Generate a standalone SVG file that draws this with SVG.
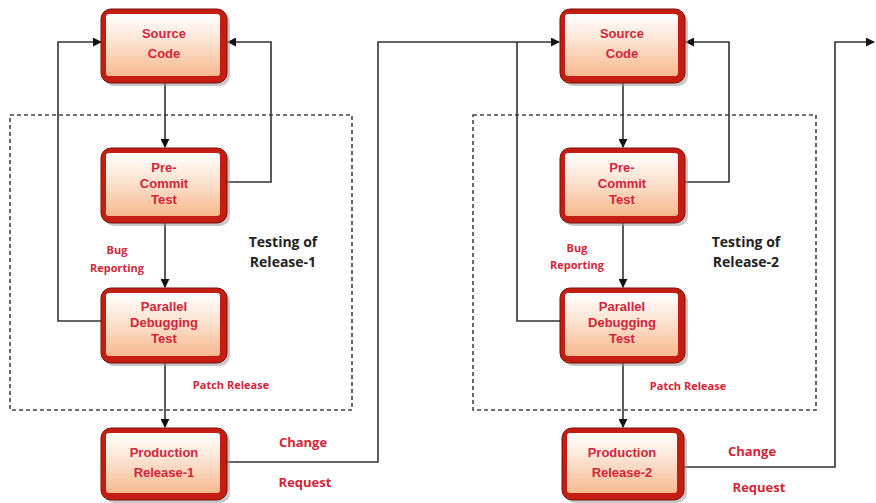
<svg xmlns="http://www.w3.org/2000/svg" width="876" height="503" viewBox="0 0 876 503">
  <defs>
    <linearGradient id="boxFill" x1="0" y1="0" x2="0" y2="1">
      <stop offset="0" stop-color="#ffffff"/>
      <stop offset="0.35" stop-color="#fde9dc"/>
      <stop offset="1" stop-color="#f7b98d"/>
    </linearGradient>
    <marker id="arrow" viewBox="0 0 10 10" refX="9" refY="5" markerWidth="9" markerHeight="9" markerUnits="userSpaceOnUse" orient="auto">
      <path d="M0,0 L10,5 L0,10 z" fill="#111"/>
    </marker>
    <style>
      .shadow { fill: #9a9a9a; opacity: 0.55; }
      .frame { fill: #c41e12; stroke: #7a1008; stroke-width: 1; }
      .face { fill: url(#boxFill); }
      .label { font-family: "Liberation Sans", "Open Sans", sans-serif; font-weight: bold; font-size: 13px; fill: #d3253a; text-anchor: middle; }
      .note { font-family: "Open Sans", "Liberation Sans", sans-serif; font-weight: bold; font-size: 11px; fill: #d3253a; text-anchor: middle; }
      .flow { font-family: "Open Sans", "Liberation Sans", sans-serif; font-weight: bold; font-size: 13px; fill: #d3253a; text-anchor: middle; }
      .title { font-family: "Open Sans", "Liberation Sans", sans-serif; font-weight: bold; font-size: 14px; fill: #222; text-anchor: middle; }
      .edge { fill: none; stroke: #333; stroke-width: 1.6; }
      .group { fill: none; stroke: #444; stroke-width: 1.6; stroke-dasharray: 4 3; }
    </style>
  </defs>

  <rect width="876" height="503" fill="#ffffff"/>

  <!-- testing boundaries -->
  <g id="testing-release-1">
    <rect class="group" x="10" y="115" width="342" height="295"/>
    <text class="title" x="283" y="247">Testing of</text>
    <text class="title" x="283" y="267">Release-1</text>
  </g>
  <g id="testing-release-2">
    <rect class="group" x="473" y="115" width="343" height="295"/>
    <text class="title" x="746" y="247">Testing of</text>
    <text class="title" x="746" y="267">Release-2</text>
  </g>

  <!-- connectors -->
  <g id="connectors">
    <!-- release 1 column -->
    <path class="edge" d="M165,83 V147" marker-end="url(#arrow)"/>
    <path class="edge" d="M165,223 V287" marker-end="url(#arrow)"/>
    <path class="edge" d="M165,363 V427" marker-end="url(#arrow)"/>
    <path class="edge" d="M102,321 H58 V42 H101" marker-end="url(#arrow)"/>
    <path class="edge" d="M227,182 H271 V42 H228" marker-end="url(#arrow)"/>
    <path class="edge" d="M227,462 H378 V42 H559" marker-end="url(#arrow)"/>
    <!-- release 2 column -->
    <path class="edge" d="M623,83 V147" marker-end="url(#arrow)"/>
    <path class="edge" d="M623,223 V287" marker-end="url(#arrow)"/>
    <path class="edge" d="M623,363 V427" marker-end="url(#arrow)"/>
    <path class="edge" d="M561,321 H517 V42"/>
    <path class="edge" d="M685,182 H729 V42 H686" marker-end="url(#arrow)"/>
    <path class="edge" d="M683,467 H835 V42 H874" marker-end="url(#arrow)"/>

    <text class="note" x="117" y="254">Bug</text>
    <text class="note" x="117" y="272">Reporting</text>
    <text class="note" x="231" y="389">Patch Release</text>
    <text class="flow" x="303" y="447">Change</text>
    <text class="flow" x="305" y="487">Request</text>

    <text class="note" x="577" y="252">Bug</text>
    <text class="note" x="577" y="269">Reporting</text>
    <text class="note" x="688" y="390">Patch Release</text>
    <text class="flow" x="752" y="456">Change</text>
    <text class="flow" x="759" y="492">Request</text>
  </g>

  <!-- release 1 nodes -->
  <g id="source-code-1">
    <rect class="shadow" x="104" y="12" width="126" height="74" rx="10"/>
    <rect class="frame" x="101" y="9" width="126" height="74" rx="10"/>
    <rect class="face" x="106" y="14" width="114" height="62" rx="3"/>
    <text class="label" x="164" y="38">Source</text>
    <text class="label" x="164" y="58">Code</text>
  </g>
  <g id="pre-commit-1">
    <rect class="shadow" x="104" y="151" width="126" height="75" rx="10"/>
    <rect class="frame" x="101" y="148" width="126" height="75" rx="10"/>
    <rect class="face" x="106" y="153" width="114" height="63" rx="3"/>
    <text class="label" x="164" y="172">Pre-</text>
    <text class="label" x="164" y="188">Commit</text>
    <text class="label" x="164" y="204">Test</text>
  </g>
  <g id="parallel-debugging-1">
    <rect class="shadow" x="104" y="291" width="126" height="75" rx="10"/>
    <rect class="frame" x="101" y="288" width="126" height="75" rx="10"/>
    <rect class="face" x="106" y="293" width="114" height="63" rx="3"/>
    <text class="label" x="164" y="311">Parallel</text>
    <text class="label" x="164" y="327">Debugging</text>
    <text class="label" x="164" y="343">Test</text>
  </g>
  <g id="production-release-1">
    <rect class="shadow" x="104" y="431" width="126" height="72" rx="10"/>
    <rect class="frame" x="101" y="428" width="126" height="72" rx="10"/>
    <rect class="face" x="106" y="433" width="114" height="60" rx="3"/>
    <text class="label" x="164" y="457">Production</text>
    <text class="label" x="164" y="477">Release-1</text>
  </g>

  <!-- release 2 nodes -->
  <g id="source-code-2">
    <rect class="shadow" x="563" y="12" width="125" height="74" rx="10"/>
    <rect class="frame" x="560" y="9" width="125" height="74" rx="10"/>
    <rect class="face" x="565" y="14" width="113" height="62" rx="3"/>
    <text class="label" x="622" y="38">Source</text>
    <text class="label" x="622" y="58">Code</text>
  </g>
  <g id="pre-commit-2">
    <rect class="shadow" x="563" y="151" width="125" height="75" rx="10"/>
    <rect class="frame" x="560" y="148" width="125" height="75" rx="10"/>
    <rect class="face" x="565" y="153" width="113" height="63" rx="3"/>
    <text class="label" x="622" y="172">Pre-</text>
    <text class="label" x="622" y="188">Commit</text>
    <text class="label" x="622" y="204">Test</text>
  </g>
  <g id="parallel-debugging-2">
    <rect class="shadow" x="563" y="291" width="125" height="75" rx="10"/>
    <rect class="frame" x="560" y="288" width="125" height="75" rx="10"/>
    <rect class="face" x="565" y="293" width="113" height="63" rx="3"/>
    <text class="label" x="622" y="311">Parallel</text>
    <text class="label" x="622" y="327">Debugging</text>
    <text class="label" x="622" y="343">Test</text>
  </g>
  <g id="production-release-2">
    <rect class="shadow" x="565" y="431" width="122" height="72" rx="10"/>
    <rect class="frame" x="562" y="428" width="122" height="72" rx="10"/>
    <rect class="face" x="567" y="433" width="110" height="60" rx="3"/>
    <text class="label" x="622" y="457">Production</text>
    <text class="label" x="622" y="477">Release-2</text>
  </g>
</svg>
